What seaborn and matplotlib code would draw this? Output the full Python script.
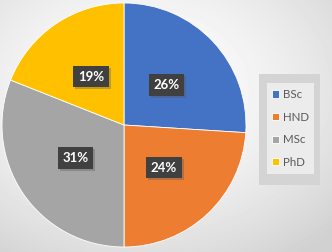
import numpy as np
import matplotlib
matplotlib.use("Agg")
import matplotlib.pyplot as plt
import matplotlib.patches as mpatches
import matplotlib.patheffects as pe
import seaborn as sns

degrees = ["BSc", "HND", "MSc", "PhD"]
shares = [26, 24, 31, 19]
colors = ["#4472C4", "#ED7D31", "#A5A5A5", "#FFC000"]


def main():
	sns.set_theme(style="white")
	plt.rcParams["font.family"] = ["Lato", "DejaVu Sans"]

	fig = plt.figure(figsize=(3.32, 2.52), dpi=100)

	# radial background
	bg = fig.add_axes([0, 0, 1, 1])
	yy, xx = np.mgrid[0:252, 0:332]
	d = np.sqrt(((xx - 140) / 332) ** 2 + ((yy - 90) / 252) ** 2)
	shade = 1.0 - 0.18 * np.clip(d / 0.8, 0, 1) ** 1.6
	bg.imshow(shade, cmap="gray", vmin=0, vmax=1, aspect="auto", extent=[0, 1, 0, 1])
	bg.set_axis_off()

	ax = fig.add_axes([2 / 332, 5 / 252, 244 / 332, 244 / 252])
	wedges, _ = ax.pie(
		shares,
		colors=colors,
		startangle=90,
		counterclock=False,
		wedgeprops={"edgecolor": "white", "linewidth": 0.6},
	)
	ax.set_aspect("equal")
	ax.set_xlim(-1.0, 1.0)
	ax.set_ylim(-1.0, 1.0)

	start = 90.0
	for val in shares:
		mid = np.deg2rad(start - val * 3.6 / 2)
		start -= val * 3.6
		x, y = 0.48 * np.cos(mid), 0.48 * np.sin(mid)
		t = ax.text(x, y, f"{val}%", ha="center", va="center",
			fontsize=9.5, fontweight="bold", color="white",
			bbox={"boxstyle": "square,pad=0.35", "fc": "#404040", "ec": "none"})
		t.get_bbox_patch().set_path_effects([
			pe.SimplePatchShadow(offset=(1.5, -1.5), shadow_rgbFace="#555555", alpha=0.35),
			pe.Normal(),
		])

	# legend outer frame
	fig.patches.append(mpatches.Rectangle(
		(259 / 332, 1 - 185 / 252), 61 / 332, 111 / 252,
		transform=fig.transFigure, fc="#d4d4d4", ec="none", zorder=1))
	leg = fig.legend(
		wedges, degrees,
		loc="center",
		bbox_to_anchor=(290.5 / 332, 1 - 128.5 / 252),
		frameon=True,
		fancybox=False,
		facecolor="#ececec",
		edgecolor="none",
		framealpha=1,
		fontsize=8.3,
		handlelength=0.6,
		handleheight=0.6,
		handletextpad=0.3,
		labelspacing=1.0,
		borderpad=0.5,
		borderaxespad=0,
		labelcolor="#595959",
	)
	leg.set_zorder(2)
	leg.get_frame().set_boxstyle("square", pad=0)

	fig.savefig("out.png", dpi=100)
	plt.close(fig)


if __name__ == "__main__":
	main()
